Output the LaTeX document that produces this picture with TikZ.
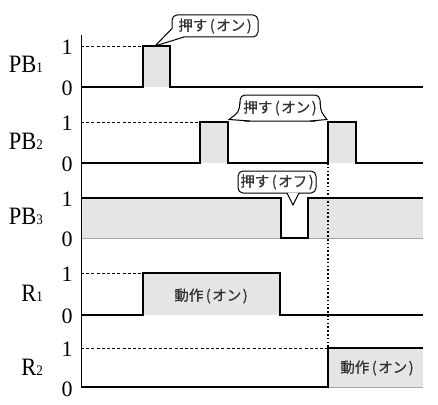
\documentclass[tikz,border=0pt]{standalone}
\usepackage{fontspec}
\setmainfont{Liberation Serif}
\newfontfamily\jp[FakeBold=0.6]{Noto Sans CJK JP}
\newcommand{\sigsub}[1]{{\fontsize{14.5}{14.5}\selectfont\raisebox{-0.5pt}{#1}}}
\newcommand{\signm}[2]{\scalebox{0.9}[1]{#1\sigsub{#2}}}
\newcommand{\jpar}[1]{\kern2.5pt(\kern1.5pt#1\kern1.5pt)}
\begin{document}
\begin{tikzpicture}[x=1pt,y=-1pt,
  wave/.style={line width=2.2pt, line join=miter},
  lvl/.style={line width=0.8pt, dash pattern=on 3pt off 2.2pt},
  shade/.style={fill=gray!20},
  base0/.style={line width=0.8pt, draw=gray!70},
  signame/.style={font=\fontsize{25}{25}\selectfont, anchor=base east, inner sep=0pt},
  num/.style={font=\fontsize{22}{22}\selectfont, inner sep=0pt},
  jtext/.style={font=\jp\fontsize{14.5}{14.5}\selectfont, text=black!80, inner sep=0pt},
  cbox/.style={draw, line width=1pt, rounded corners=5pt, fill=white, inner sep=0pt},
  ptr/.style={line width=1pt, line join=miter}
]
\useasboundingbox (0,0) rectangle (438,404);

% shaded regions
\fill[shade] (143,46) rectangle (170,87);
\fill[shade] (200,122) rectangle (228,163);
\fill[shade] (328,122) rectangle (356,163);
\fill[shade] (81,198) rectangle (281,238);
\fill[shade] (308,198) rectangle (423,238);
\fill[shade] (143,273) rectangle (280,315);
\fill[shade] (328,348) rectangle (423,387);
\draw[base0] (81,238) -- (281,238);
\draw[base0] (308,238) -- (423,238);
\draw[base0] (328,387) -- (423,387);

% level-1 guides
\coordinate (g1) at (81,46);   \coordinate (p1a) at (143,46);
\coordinate (g2) at (81,122);  \coordinate (p2a) at (200,122);
\coordinate (g4) at (81,273);  \coordinate (r1a) at (143,273);
\coordinate (g5) at (81,348);  \coordinate (r2a) at (328,348);
\draw[lvl] (g1) -- (p1a);
\draw[lvl] (g2) -- (p2a);
\draw[lvl] (g4) -- (r1a);
\draw[lvl] (g5) -- (r2a);

% dotted vertical
\coordinate (dtop) at (328,163);
\draw[line width=1.4pt, dash pattern=on 1.6pt off 2.2pt] (dtop) -- (r2a);

% axis
\coordinate (axt) at (81,35);
\coordinate (axb) at (81,388);
\draw[line width=1pt] (axt) -- (axb);

% waveforms
\draw[wave] (81,87) -- (143,87) -- (143,46) -- (170,46) -- (170,87) -- (423,87);
\draw[wave] (81,163) -- (200,163) -- (200,122) -- (228,122) -- (228,163) -- (328,163) -- (328,122) -- (356,122) -- (356,163) -- (423,163);
\draw[wave] (81,198) -- (281,198) -- (281,238) -- (308,238) -- (308,198) -- (423,198);
\draw[wave] (81,315) -- (143,315) -- (143,273) -- (280,273) -- (280,315) -- (423,315);
\draw[wave] (81,387) -- (328,387) -- (328,348) -- (423,348);

% signal names
\node[signame] (n1) at (43,72) {\signm{PB}{1}};
\node[signame] (n2) at (43,149) {\signm{PB}{2}};
\node[signame] (n3) at (43,224) {\signm{PB}{3}};
\node[signame] (n4) at (43,301) {\signm{R}{1}};
\node[signame] (n5) at (43,375) {\signm{R}{2}};

% 1 / 0 labels
\node[num] (a1) at (67,47) {1};  \node[num] (b1) at (67,88) {0};
\node[num] (a2) at (67,123) {1}; \node[num] (b2) at (67,164) {0};
\node[num] (a3) at (67,199) {1}; \node[num] (b3) at (67,239.5) {0};
\node[num] (a4) at (67,274) {1}; \node[num] (b4) at (67,316) {0};
\node[num] (a5) at (67,349) {1}; \node[num] (b5) at (67,389) {0};

% action labels
\node[jtext] (l1) at (211,296) {動作\jpar{オン}};
\node[jtext] (l2) at (377,368) {動作\jpar{オン}};

% callout 1
\node[cbox, minimum width=86pt, minimum height=22pt] (c1) at (215,26) {};
\fill[white] (172.6,28.5) -- (155,46) -- (184,36.5) -- (184,30) -- cycle;
\draw[ptr] (172,28.5) -- (155,46) -- (184,37);
\node[jtext] (t1) at (c1) {押す\jpar{オン}};

% callout 2
\node[cbox, minimum width=80pt, minimum height=26pt] (c2) at (280,108) {};
\fill[white] (240.5,102) .. controls (239.5,112) .. (229,119.5) -- (250,120.5) -- (250,102) -- cycle;
\fill[white] (319.5,102) .. controls (320.5,112) .. (327,119.5) -- (310,120.5) -- (310,102) -- cycle;
\draw[ptr] (240,102) .. controls (239,112) .. (229,119.5) -- (250,121);
\draw[ptr] (320,102) .. controls (321,112) .. (327,119.5) -- (310,121);
\node[jtext] (t2) at (c2) {押す\jpar{オン}};

% callout 3
\node[cbox, minimum width=78pt, minimum height=22pt] (c3) at (277,182) {};
\fill[white] (287,192.5) -- (293,205) -- (299,192.5) -- cycle;
\draw[ptr] (287,193) -- (293,205) -- (299,193);
\node[jtext] (t3) at (c3) {押す\jpar{オフ}};
\end{tikzpicture}
\end{document}
